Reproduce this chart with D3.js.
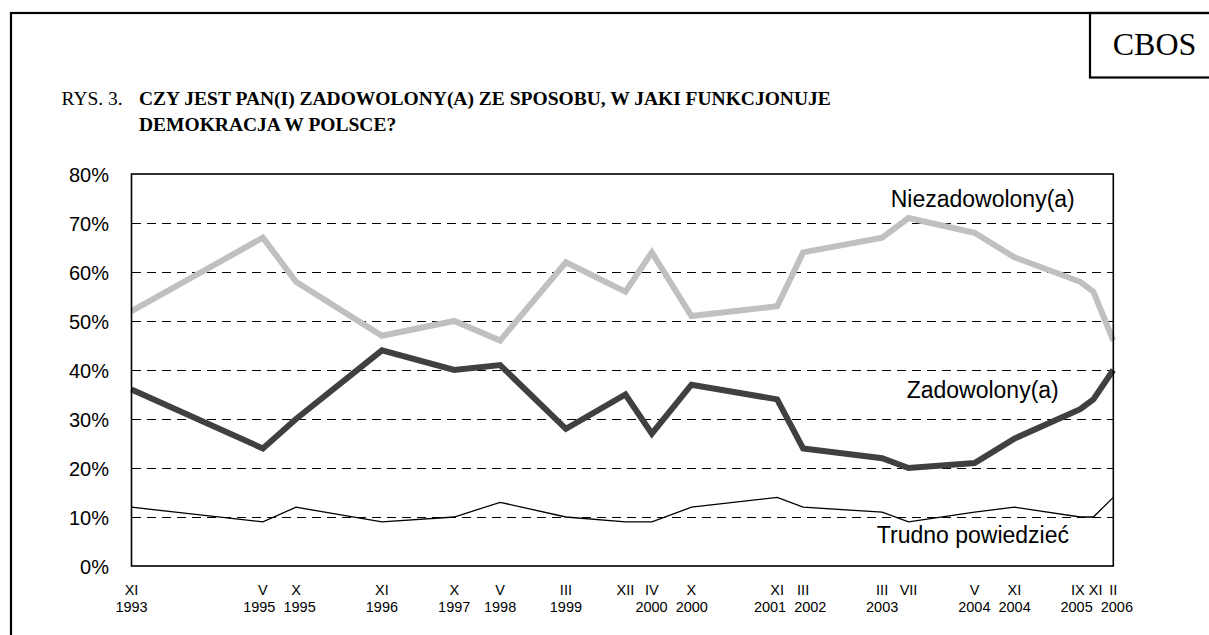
<!DOCTYPE html>
<html>
<head>
<meta charset="utf-8">
<title>CBOS - zadowolenie z demokracji</title>
<script src="https://d3js.org/d3.v7.min.js"></script>
<style>
  body { margin: 0; background: #fff; }
  svg { display: block; }
  .serif { font-family: "Liberation Serif", "Times New Roman", serif; }
  .sans { font-family: "Liberation Sans", Arial, sans-serif; }
</style>
</head>
<body>
<svg id="chart" width="1209" height="635"></svg>
<script>
// month / year labels under the axis ("" = no year printed)
var months = ["XI","V","X","XI","X","V","III","XII","IV","X","XI","III","III","VII","V","XI","IX","XI","II"];
var years  = ["1993","1995","1995","1996","1997","1998","1999","","2000","2000","2001","2002","2003","","2004","2004","2005","","2006"];
// where each survey sits on the time axis (first point is drawn a bit left of XI 1993 in the original)
var dates  = ["1993-09","1995-05","1995-10","1996-11","1997-10","1998-05","1999-03","1999-12","2000-04","2000-10",
              "2001-11","2002-03","2003-03","2003-07","2004-05","2004-11","2005-09","2005-11","2006-02"];

var niezadowoleni = [52,67,58,47,50,46,62,56,64,51,53,64,67,71,68,63,58,56,46];
var zadowoleni    = [36,24,30,44,40,41,28,35,27,37,34,24,22,20,21,26,32,34,40];
var trudno        = [12,9,12,9,10,13,10,9,9,12,14,12,11,9,11,12,10,10,14];

var yTicks = [0,10,20,30,40,50,60,70,80];

var svg = d3.select('#chart');
var margin = {top:174, left:131.5, bottom:69, right:95.7};
var width = 1209 - margin.left - margin.right,
    height = 635 - margin.top - margin.bottom;

var parse = d3.timeParse('%Y-%m');
var t = dates.map(parse);

// outer frame and CBOS box
svg.append('rect')
  .attr('x', 11).attr('y', 13).attr('width', 1300).attr('height', 700)
  .attr('fill', 'none').attr('stroke', '#000').attr('stroke-width', 2.2);
svg.append('rect')
  .attr('x', 1090).attr('y', 13).attr('width', 200).attr('height', 64.5)
  .attr('fill', 'none').attr('stroke', '#000').attr('stroke-width', 2.2);
svg.append('text').attr('class','serif')
  .attr('x', 1154.5).attr('y', 55).attr('text-anchor','middle')
  .style('font-size','32px').text('CBOS');

// title
var title = svg.append('text').attr('class','serif').style('font-size','19.5px');
title.append('tspan').attr('x', 61.5).attr('y', 105).text('RYS. 3.');
title.append('tspan').attr('x', 139).attr('y', 105).style('font-weight','bold')
  .text('CZY JEST PAN(I) ZADOWOLONY(A) ZE SPOSOBU, W JAKI FUNKCJONUJE');
title.append('tspan').attr('x', 139).attr('y', 131).style('font-weight','bold')
  .text('DEMOKRACJA W POLSCE?');

var g = svg.append('g').attr('transform','translate('+margin.left+','+margin.top+')');

var x = d3.scaleTime().domain(d3.extent(t)).range([0, width]);
var y = d3.scaleLinear().domain([0, 80]).range([height, 0]);

// dashed grid
g.selectAll('line.grid')
  .data(yTicks.filter(function(d){ return d > 0 && d < 80; }))
  .enter().append('line').attr('class','grid')
    .attr('x1', 0).attr('x2', width)
    .attr('y1', function(d){ return Math.round(y(d)) + 0.5; })
    .attr('y2', function(d){ return Math.round(y(d)) + 0.5; })
    .attr('stroke', '#000').attr('stroke-width', 1)
    .attr('shape-rendering', 'crispEdges')
    .attr('stroke-dasharray', '9,6');

// y labels
g.selectAll('text.ylab')
  .data(yTicks).enter().append('text')
    .attr('class','ylab sans')
    .attr('x', -22.5)
    .attr('y', function(d){ return y(d); })
    .attr('dy', '0.42em')
    .attr('text-anchor','end')
    .style('font-size','20px')
    .text(function(d){ return d + '%'; });

// lines
var line = function(vals){
  return d3.line()
    .x(function(d, i){ return x(t[i]); })
    .y(function(d){ return y(d); })(vals);
};

g.append('path').attr('d', line(niezadowoleni))
  .attr('fill','none').attr('stroke','#c0c0c0').attr('stroke-width', 6)
  .attr('stroke-linejoin','miter');
g.append('path').attr('d', line(zadowoleni))
  .attr('fill','none').attr('stroke','#404040').attr('stroke-width', 6)
  .attr('stroke-linejoin','miter');
g.append('path').attr('d', line(trudno))
  .attr('fill','none').attr('stroke','#000').attr('stroke-width', 1.3);

// plot border
g.append('rect').attr('width', width).attr('height', height)
  .attr('fill','none').attr('stroke','#000').attr('stroke-width', 1.6);

// series names
var names = [
  {text:'Niezadowolony(a)', v:73.3},
  {text:'Zadowolony(a)', v:34.3},
  {text:'Trudno powiedzieć', v:4.7}
];
g.selectAll('text.sname').data(names).enter().append('text')
  .attr('class','sname sans')
  .attr('x', function(d, i){ return i == 2 ? width * 0.857 : width * 0.867; })
  .attr('y', function(d){ return y(d.v); })
  .attr('text-anchor','middle')
  .style('font-size','23px')
  .text(function(d){ return d.text; });

// x labels, nudged apart when they collide
function spread(sel, pad){
  var items = [];
  sel.each(function(d, i){
    if (this.textContent) items.push({node:this, x:+this.getAttribute('x'), w:this.getComputedTextLength()});
  });
  for (var k = 0; k < 20; k++){
    for (var j = 1; j < items.length; j++){
      var a = items[j-1], b = items[j];
      var gap = (b.x - b.w/2) - (a.x + a.w/2);
      if (gap < pad){ var s = (pad - gap)/2; a.x -= s; b.x += s; }
    }
  }
  items.forEach(function(it){ it.node.setAttribute('x', it.x); });
}

var mLab = g.selectAll('text.mlab').data(months).enter().append('text')
  .attr('class','mlab sans')
  .attr('x', function(d, i){ return x(t[i]); })
  .attr('y', height + 29)
  .attr('text-anchor','middle')
  .style('font-size','14.5px')
  .text(function(d){ return d; });
spread(mLab, 4);

var yLab = g.selectAll('text.yrlab').data(years).enter().append('text')
  .attr('class','yrlab sans')
  .attr('x', function(d, i){ return x(t[i]); })
  .attr('y', height + 46)
  .attr('text-anchor','middle')
  .style('font-size','14.5px')
  .text(function(d){ return d; });
spread(yLab, 8);
</script>
</body>
</html>
